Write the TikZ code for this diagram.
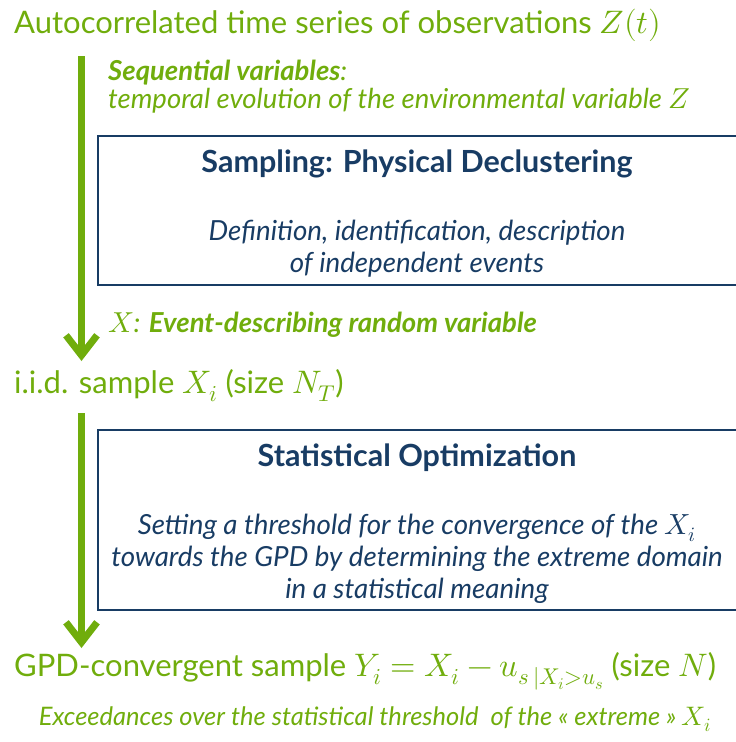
\documentclass[tikz,border=0pt]{standalone}
\usepackage{amsmath}
\usepackage{fontspec}
\usepackage{unicode-math}
\setmainfont{Lato}
\setmathfont{Latin Modern Math}[Scale=1.05]
\usepackage{tikz}
\usetikzlibrary{arrows.meta,positioning}
\definecolor{leafgreen}{RGB}{112,173,12}
\definecolor{navyblue}{RGB}{24,60,100}
\tikzset{
	auto,
	%
	stagebox/.style={
		rectangle, draw=navyblue, line width=1.8pt
	},
	%
	flowline/.style={
		draw=leafgreen, line width=7pt,
		-{Straight Barb[length=20pt,width=31pt,line width=7pt]}
	},
	%
	statetext/.style={
		text=leafgreen, anchor=base west, inner sep=0pt,
		font=\fontsize{31}{36}\selectfont
	},
	%
	notetext/.style={
		text=leafgreen, anchor=base west, inner sep=0pt, align=left,
		font=\fontsize{27.5}{28}\selectfont\itshape
	},
	%
	boxtitle/.style={
		text=navyblue, inner sep=0pt, anchor=base,
		font=\fontsize{30.5}{34}\selectfont\bfseries
	},
	%
	boxtext/.style={
		text=navyblue, inner sep=0pt, anchor=base, align=center,
		font=\fontsize{27.7}{32}\selectfont\itshape
	}
}

\begin{document}
\begin{tikzpicture}[x=1pt,y=-1pt]
\useasboundingbox (0,0) rectangle (736,742);

%states
\node (series) [statetext] at (14,33) {Autocorrelated time series of observations $Z(t)$};
\node (sample) [statetext] at (14,393) {i.i.d. sample $X_i$ (size $N_T$)};
\node (gpd) [statetext] at (14,676) {GPD-convergent sample $Y_i = X_i - u_{s\,|X_i>u_s}$ (size $N$)};

%notes
\node (seqvar) [notetext] at (108,108) {\textbf{Sequential variables}:\\temporal evolution of the environmental variable $Z$};
\node (eventvar) [notetext] at (108,332) {$X$: \textbf{Event-describing random variable}};
\node (exceed) [notetext, anchor=base, font=\fontsize{25.5}{28}\selectfont\itshape] at (375,725) {Exceedances over the statistical threshold\ \ of the \guillemotleft~extreme~\guillemotright{} $X_i$};

%compartments
\draw[stagebox] (98,136) rectangle (745,285);
\node (declust) [boxtitle] at (417,172) {Sampling: Physical Declustering};
\node (declusttext) [boxtext] at (417,272) {Definition, identification, description\\of independent events};

\draw[stagebox] (98,430) rectangle (745,610);
\node (optim) [boxtitle] at (417,466) {Statistical Optimization};
\node (optimtext) [boxtext] at (417,598) {Setting a threshold for the convergence of the $X_i$\\towards the GPD by determining the extreme domain\\in a statistical meaning};

%arrows
\coordinate (top1) at (81.5,56);
\coordinate (tip1) at (81.5,361);
\coordinate (top2) at (81.5,413);
\coordinate (tip2) at (81.5,648);
\draw[flowline] (top1) -- (tip1);
\draw[flowline] (top2) -- (tip2);
\end{tikzpicture}
\end{document}
